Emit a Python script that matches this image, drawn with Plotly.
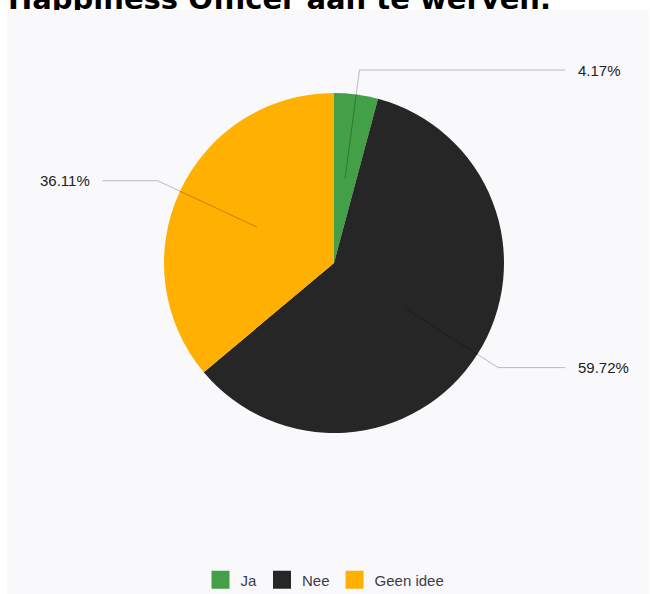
import math
import plotly.graph_objects as go

# Survey answers and their share of respondents (%)
labels = ["Ja", "Nee", "Geen idee"]
values = [4.17, 59.72, 36.11]
colors = ["#43a047", "#262626", "#ffb000"]
title_text = "Happiness Officer aan te werven."

W, H = 650, 594
# pie placement in pixels
CX, CY, R = 334, 263, 170
PANEL = dict(x0=7, y0=10, x1=649, y1=594)
TITLE_SIZE = 29


def px(x):
    return x / W


def py(y):
    return 1 - y / H


fig = go.Figure()

fig.add_trace(go.Pie(
    labels=labels,
    values=values,
    marker=dict(colors=colors, line=dict(width=0)),
    sort=False,
    direction="clockwise",
    rotation=0,
    textinfo="none",
    hoverinfo="label+percent",
    showlegend=False,
    domain=dict(x=[px(CX - R), px(CX + R)], y=[py(CY + R), py(CY - R)]),
))

# legend entries (square swatches in the slice colours)
for lab, col in zip(labels, colors):
    fig.add_trace(go.Scatter(
        x=[None], y=[None], mode="markers", name=lab,
        marker=dict(symbol="square", size=16, color=col,
                    line=dict(color=col, width=2)),
        xaxis="x", yaxis="y", hoverinfo="skip",
    ))

# heading, clipped by the strip above the panel
fig.add_trace(go.Scatter(
    x=[8], y=[8.5 - 0.23 * TITLE_SIZE], mode="text", text=[title_text],
    textposition="middle right", cliponaxis=True, showlegend=False,
    textfont=dict(family="DejaVu Sans", size=TITLE_SIZE, color="black",
                  weight="bold"),
    hoverinfo="skip",
))

# leader lines and percentage labels
shapes = [dict(type="rect", xref="paper", yref="paper", layer="below",
               x0=px(PANEL["x0"]), x1=px(PANEL["x1"]),
               y0=py(PANEL["y1"]), y1=py(PANEL["y0"]),
               fillcolor="#f9f9fb", line=dict(width=0))]
annotations = []
total = sum(values)
cum = 0.0
line_style = dict(color="rgba(0,0,0,0.25)", width=1)
for v in values:
    mid = (cum + v / 2) / total
    cum += v
    th = 2 * math.pi * mid
    sx, sy = math.sin(th), -math.cos(th)
    x_in, y_in = CX + 0.5 * R * sx, CY + 0.5 * R * sy
    x_el, y_el = CX + 1.145 * R * sx, CY + 1.145 * R * sy
    side = 1 if sx >= 0 else -1
    x_end = CX + side * 1.36 * R
    shapes.append(dict(type="line", xref="paper", yref="paper", layer="above",
                       x0=px(x_in), y0=py(y_in), x1=px(x_el), y1=py(y_el),
                       line=line_style))
    shapes.append(dict(type="line", xref="paper", yref="paper", layer="above",
                       x0=px(x_el), y0=py(y_el), x1=px(x_end), y1=py(y_el),
                       line=line_style))
    annotations.append(dict(
        xref="paper", yref="paper", x=px(x_end + side * 11), y=py(y_el),
        xanchor="left" if side > 0 else "right", yanchor="middle",
        text=f"{v:.2f}%", showarrow=False,
        font=dict(family="Liberation Sans", size=15, color="#222222"),
    ))

fig.update_layout(
    width=W, height=H,
    margin=dict(l=0, r=0, t=0, b=0, autoexpand=False),
    paper_bgcolor="white",
    plot_bgcolor="rgba(0,0,0,0)",
    xaxis=dict(domain=[0, 1], range=[0, W], visible=False, fixedrange=True),
    yaxis=dict(domain=[py(PANEL["y0"]), 1], range=[PANEL["y0"], 0],
               visible=False, fixedrange=True),
    shapes=shapes,
    annotations=annotations,
    showlegend=True,
    legend=dict(orientation="h", x=0.5, xanchor="center",
                y=py(580), yanchor="middle", bgcolor="rgba(0,0,0,0)",
                font=dict(family="Liberation Sans", size=15, color="#3c3c4c"),
                itemclick=False, itemdoubleclick=False),
)

fig.write_html("out.html")
